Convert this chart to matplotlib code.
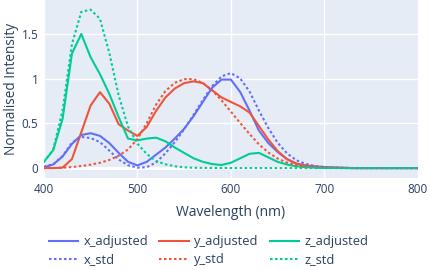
import numpy as np
import matplotlib
matplotlib.use('Agg')
import matplotlib.pyplot as plt

wavelength = list(range(400, 810, 10))

x_adjusted = [0.01, 0.04, 0.13, 0.27, 0.37, 0.39, 0.36, 0.28, 0.17, 0.07,
              0.03, 0.07, 0.15, 0.23, 0.33, 0.44, 0.58, 0.74, 0.90, 0.99,
              0.99, 0.85, 0.64, 0.42, 0.28, 0.18, 0.10, 0.05, 0.025, 0.012,
              0.006, 0.003, 0.001, 0, 0, 0, 0, 0, 0, 0, 0]
y_adjusted = [0.0, 0.0, 0.005, 0.10, 0.40, 0.70, 0.85, 0.72, 0.49, 0.42,
              0.36, 0.46, 0.64, 0.79, 0.89, 0.95, 0.97, 0.95, 0.87, 0.79,
              0.74, 0.69, 0.62, 0.47, 0.32, 0.19, 0.10, 0.05, 0.03, 0.02,
              0.012, 0.008, 0.005, 0, 0, 0, 0, 0, 0, 0, 0]
z_adjusted = [0.07, 0.20, 0.55, 1.28, 1.50, 1.24, 1.05, 0.83, 0.57, 0.33,
              0.31, 0.33, 0.34, 0.30, 0.23, 0.17, 0.11, 0.07, 0.045, 0.035,
              0.06, 0.11, 0.16, 0.17, 0.12, 0.07, 0.04, 0.02, 0.01, 0.005,
              0, 0, 0, 0, 0, 0, 0, 0, 0, 0, 0]

x_std = [0.0143, 0.0435, 0.1344, 0.2839, 0.3483, 0.3362, 0.2908, 0.1954, 0.0956, 0.0320,
         0.0049, 0.0093, 0.0633, 0.1655, 0.2904, 0.4334, 0.5945, 0.7621, 0.9163, 1.0263,
         1.0622, 1.0026, 0.8544, 0.6424, 0.4479, 0.2835, 0.1649, 0.0874, 0.0468, 0.0227,
         0.0114, 0.0058, 0.0029, 0.0014, 0.0007, 0.0003, 0.0002, 0.0001, 0.0001, 0.0, 0.0]
y_std = [0.0004, 0.0012, 0.0040, 0.0116, 0.0230, 0.0380, 0.0600, 0.0910, 0.1390, 0.2080,
         0.3230, 0.5030, 0.7100, 0.8620, 0.9540, 0.9950, 0.9950, 0.9520, 0.8700, 0.7570,
         0.6310, 0.5030, 0.3810, 0.2650, 0.1750, 0.1070, 0.0610, 0.0320, 0.0170, 0.0082,
         0.0041, 0.0021, 0.0010, 0.0005, 0.0002, 0.0001, 0.0001, 0.0, 0.0, 0.0, 0.0]
z_std = [0.0679, 0.2074, 0.6456, 1.3856, 1.7471, 1.7721, 1.6692, 1.2876, 0.8130, 0.4652,
         0.2720, 0.1582, 0.0782, 0.0422, 0.0203, 0.0087, 0.0039, 0.0021, 0.0017, 0.0011,
         0.0008, 0.0003, 0.0002, 0, 0, 0, 0, 0, 0, 0,
         0, 0, 0, 0, 0, 0, 0, 0, 0, 0, 0]

BLUE, RED, GREEN = '#636EFA', '#EF553B', '#00CC96'
BG = '#E5ECF6'
TXT = '#2a3f5f'

plt.rcParams['font.family'] = ['Open Sans', 'DejaVu Sans']

fig = plt.figure(figsize=(4.3, 2.7), dpi=100)
ax = fig.add_axes([0.102, 0.341, 0.870, 0.659])
ax.set_facecolor(BG)

lw = 1.5
dot = (0, (1.2, 1.2))
series = [
    (x_adjusted, BLUE, '-', 'x_adjusted'),
    (y_adjusted, RED, '-', 'y_adjusted'),
    (z_adjusted, GREEN, '-', 'z_adjusted'),
    (x_std, BLUE, dot, 'x_std'),
    (y_std, RED, dot, 'y_std'),
    (z_std, GREEN, dot, 'z_std'),
]
lines = {}
for vals, col, ls, name in series:
    l, = ax.plot(wavelength, vals, color=col, ls=ls, lw=lw, label=name, zorder=3)
    lines[name] = l

ax.set_xlim(400, 800)
ax.set_ylim(-0.11, 1.88)
ax.set_xticks([400, 500, 600, 700, 800])
ax.set_yticks([0, 0.5, 1, 1.5])
ax.set_yticklabels(['0', '0.5', '1', '1.5'])
ax.grid(color='white', lw=1, zorder=0)
ax.set_axisbelow(True)
ax.axhline(0, color='white', lw=2, zorder=1)
for s in ax.spines.values():
    s.set_visible(False)
ax.tick_params(length=0, colors=TXT, labelsize=8.5, pad=4)
ax.set_xlabel('Wavelength (nm)', color=TXT, fontsize=10, labelpad=6)
ax.set_ylabel('Normalised Intensity', color=TXT, fontsize=9.8)
ax.yaxis.set_label_coords(-0.066, 0.5)

order = ['x_adjusted', 'x_std', 'y_adjusted', 'y_std', 'z_adjusted', 'z_std']
fig.legend([lines[n] for n in order], order, ncol=3, loc='lower left',
           bbox_to_anchor=(0.095, -0.015), frameon=False, fontsize=9.3,
           labelcolor=TXT, handlelength=2.3, columnspacing=0.85,
           handletextpad=0.4, labelspacing=0.4, borderaxespad=0.2)

fig.savefig('out.png', dpi=100)
